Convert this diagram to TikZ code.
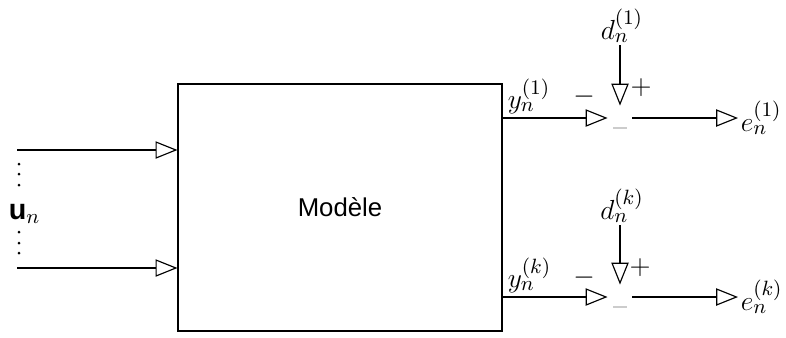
\documentclass[tikz,border=0pt]{standalone}
\usepackage{fontspec}
\setsansfont{Liberation Sans}
\usetikzlibrary{arrows.meta}
\begin{document}
\begin{tikzpicture}[x=0.435pt,y=-0.435pt,
  wire/.style={line width=0.7pt,-{Triangle[open,length=9.5pt,width=7.5pt,line width=0.5pt]}},
  sumnode/.style={circle,minimum size=24*0.435pt,inner sep=0pt},
  dotmark/.style={fill=black,draw=none},
  lbl/.style={inner sep=1pt,font=\fontsize{12.5}{15}\selectfont}]
\useasboundingbox (0,0) rectangle (786,337);
% model box
\node[draw,line width=0.5pt,minimum width=324*0.435pt,minimum height=247*0.435pt,inner sep=0pt,
  font=\sffamily\fontsize{11.2}{13}\selectfont] (model) at (340,207.5) {Modèle};
% inputs
\coordinate (in1) at (17,150);
\coordinate (in2) at (17,268);
\draw[wire] (in1) -- (in1 -| model.west);
\draw[wire] (in2) -- (in2 -| model.west);
\foreach \yy in {164,174,185,232,243,253}
  \fill[dotmark] (19,\yy) circle[radius=1.5];
\node[lbl,anchor=west] (u) at (6,214) {\textsf{\textbf{u}}$_n$};
% top branch
\node[sumnode] (s1) at (620,118) {};
\node[lbl,anchor=south] (d1) at (622,45) {$d_n^{(1)}$};
\node[lbl] (m1) at (584,97) {$-$};
\node[lbl] (p1) at (641,88) {$+$};
\node[lbl,anchor=south west] (y1) at (505,117) {$y_n^{(1)}$};
\node[lbl,anchor=west] (e1) at (738,118) {$e_n^{(1)}$};
\draw[wire] (model.east |- s1) -- (s1.west);
\draw[wire] (d1.south -| s1) -- (s1.north);
\draw[wire] (s1.east) -- (e1.west);
\draw[gray!40,line width=0.6pt] (613,128) -- (627,128);
% bottom branch
\node[sumnode] (s2) at (620,297) {};
\node[lbl,anchor=south] (d2) at (622,225) {$d_n^{(k)}$};
\node[lbl] (m2) at (584,278) {$-$};
\node[lbl] (p2) at (640,268) {$+$};
\node[lbl,anchor=south west] (y2) at (505,296) {$y_n^{(k)}$};
\node[lbl,anchor=west] (e2) at (738,297) {$e_n^{(k)}$};
\draw[wire] (model.east |- s2) -- (s2.west);
\draw[wire] (d2.south -| s2) -- (s2.north);
\draw[wire] (s2.east) -- (e2.west);
\draw[gray!40,line width=0.6pt] (613,307) -- (627,307);
\end{tikzpicture}
\end{document}
